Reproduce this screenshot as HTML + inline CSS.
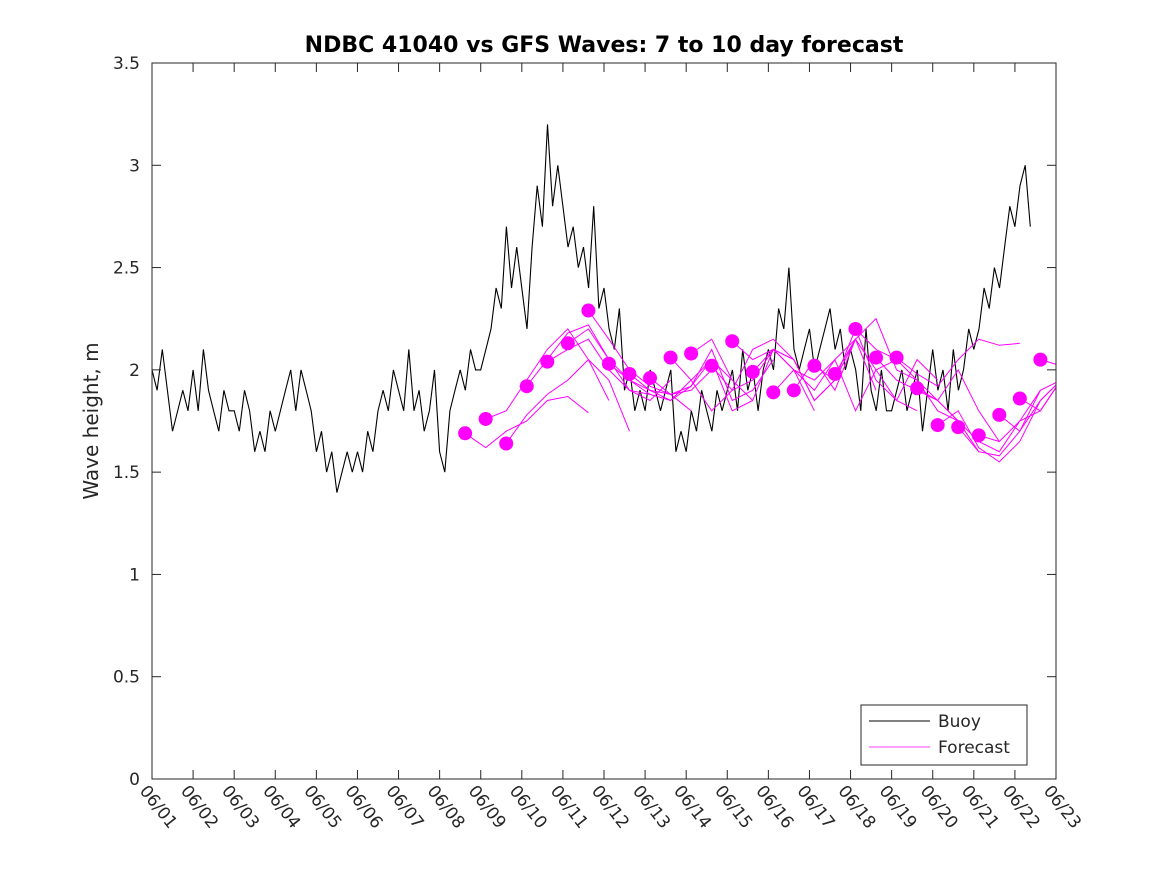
<!DOCTYPE html>
<html><head><meta charset="utf-8"><style>
body{margin:0;background:#fff;}
svg text{font-family:"DejaVu Sans","Liberation Sans",sans-serif;fill:#262626;}
</style></head><body>
<svg id="chart" width="1167" height="875" xmlns="http://www.w3.org/2000/svg">
<rect width="1167" height="875" fill="#fff"/>
<defs><clipPath id="clip"><rect x="152" y="63" width="904" height="716"/></clipPath></defs>
<text x="604" y="52" text-anchor="middle" font-size="22" font-weight="bold" style="fill:#000">NDBC 41040 vs GFS Waves: 7 to 10 day forecast</text>
<text transform="translate(98,421) rotate(-90)" text-anchor="middle" font-size="20">Wave height, m</text>
<g id="marks" clip-path="url(#clip)"></g>
<rect x="152" y="63" width="904" height="716" fill="none" stroke="#262626" stroke-width="1"/>
<g id="axes"></g>
<g>
<rect x="861" y="705" width="166" height="60" fill="#fff" stroke="#262626"/>
<line x1="869" y1="721" x2="930" y2="721" stroke="#000"/>
<text x="938" y="727" font-size="17">Buoy</text>
<line x1="869" y1="747" x2="930" y2="747" stroke="#f0f" stroke-width="0.8"/>
<text x="938" y="753" font-size="17">Forecast</text>
</g>
</svg>
<script>
const xTickLabels=["06/01","06/02","06/03","06/04","06/05","06/06","06/07","06/08","06/09","06/10","06/11","06/12","06/13","06/14","06/15","06/16","06/17","06/18","06/19","06/20","06/21","06/22","06/23"];
const yTicks=[0,0.5,1,1.5,2,2.5,3,3.5];
const yTickLabels=["0","0.5","1","1.5","2","2.5","3","3.5"];
const buoyStepHours=3;
const buoy=[2.0,1.9,2.1,1.9,1.7,1.8,1.9,1.8,
2.0,1.8,2.1,1.9,1.8,1.7,1.9,1.8,
1.8,1.7,1.9,1.8,1.6,1.7,1.6,1.8,
1.7,1.8,1.9,2.0,1.8,2.0,1.9,1.8,
1.6,1.7,1.5,1.6,1.4,1.5,1.6,1.5,
1.6,1.5,1.7,1.6,1.8,1.9,1.8,2.0,
1.9,1.8,2.1,1.8,1.9,1.7,1.8,2.0,
1.6,1.5,1.8,1.9,2.0,1.9,2.1,2.0,
2.0,2.1,2.2,2.4,2.3,2.7,2.4,2.6,
2.4,2.2,2.6,2.9,2.7,3.2,2.8,3.0,
2.8,2.6,2.7,2.5,2.6,2.4,2.8,2.3,
2.4,2.2,2.1,2.3,1.9,2.0,1.8,1.9,
1.8,2.0,1.9,1.8,1.9,2.0,1.6,1.7,
1.6,1.8,1.7,1.9,1.8,1.7,1.9,1.8,
1.9,2.0,1.8,2.1,1.9,2.0,1.8,2.0,
2.1,2.0,2.3,2.2,2.5,2.1,2.0,2.1,
2.2,2.0,2.1,2.2,2.3,2.1,2.2,2.0,
2.1,2.0,1.8,2.2,1.9,1.8,2.0,1.8,
1.8,1.9,2.0,1.8,1.9,2.0,1.7,1.9,
2.1,1.9,2.0,1.8,2.1,1.9,2.0,2.2,
2.1,2.2,2.4,2.3,2.5,2.4,2.6,2.8,
2.7,2.9,3.0,2.7];
const dotStartDay=7.62;
const dotStepDays=0.5;
const dots=[1.69,1.76,1.64,1.92,2.04,2.13,2.29,2.03,1.98,1.96,2.06,2.08,2.02,2.14,1.99,1.89,1.90,2.02,1.98,2.20,2.06,2.06,1.91,1.73,1.72,1.68,1.78,1.86,2.05];
const fcStepDays=0.5;
const forecasts=[
[1.69,1.62,1.70,1.75,1.85,1.87,1.79],
[1.76,1.80,1.95,2.10,2.20,2.05,1.85],
[1.64,1.78,1.88,1.95,2.05,1.95,1.70],
[1.92,2.05,2.18,2.22,2.05,1.90,1.88],
[2.04,2.10,2.15,2.00,1.90,1.85,1.95],
[2.13,2.20,2.05,1.95,1.90,1.88,1.80],
[2.29,2.15,2.00,1.92,1.88,1.90,2.00],
[2.03,1.95,1.88,1.85,1.92,2.05,1.95],
[1.98,1.90,1.85,1.95,2.05,1.80,1.85],
[1.96,1.88,1.92,2.10,1.85,1.90,2.05],
[2.06,1.95,1.80,1.90,2.10,2.15,2.05],
[2.08,2.15,1.95,1.85,2.10,2.00,1.80],
[2.02,1.90,1.95,2.10,2.05,1.85,1.95],
[2.14,2.05,2.10,2.00,1.90,2.05,2.15],
[1.99,2.10,2.05,1.85,1.95,2.15,1.90],
[1.89,2.00,1.95,2.05,1.80,2.00,2.05],
[1.90,2.05,1.90,2.15,2.00,1.85,1.80],
[2.02,1.95,2.20,1.95,1.85,2.05,1.95],
[1.98,2.15,2.25,2.00,1.95,1.80,1.75],
[2.20,2.10,2.05,1.95,1.85,1.75,1.60],
[2.06,1.95,1.90,1.85,2.00,1.80,1.65],
[2.06,1.98,1.92,2.05,2.15,2.12,2.13],
[1.91,1.85,1.75,1.65,1.60,1.75,1.90],
[1.73,1.80,1.62,1.55,1.65,1.85,1.95],
[1.72,1.60,1.58,1.70,1.90,1.95,2.00],
[1.68,1.65,1.75,1.80,1.95,1.80,1.70],
[1.78,1.70,1.85,1.95,1.90,1.85,1.80],
[1.86,1.80,1.95,2.00,1.95,1.90,1.85],
[2.05,2.02,2.05,2.00,1.95,1.90,1.85]];

const NS="http://www.w3.org/2000/svg";
const X0=152,X1=1056,Y0=779,Y1=63,DAYS=22,YMAX=3.5;
function xs(d){return X0+(X1-X0)*d/DAYS;}
function ys(v){return Y0-(Y0-Y1)*v/YMAX;}
function mk(tag,attrs,parent){const e=document.createElementNS(NS,tag);for(const k in attrs)e.setAttribute(k,attrs[k]);parent.appendChild(e);return e;}
const marks=document.getElementById('marks'),axes=document.getElementById('axes');

let p="";
buoy.forEach((v,i)=>{const d=i*buoyStepHours/24;p+=(i?"L":"M")+xs(d).toFixed(1)+","+ys(v).toFixed(1);});
const bl=mk('path',{d:p,fill:"none",stroke:"#000","stroke-width":1.1},marks);



forecasts.forEach((f,i)=>{
  const t0=dotStartDay+i*dotStepDays;
  let q="";
  f.forEach((v,j)=>{q+=(j?"L":"M")+xs(t0+j*fcStepDays).toFixed(1)+","+ys(v).toFixed(1);});
  const fl=mk('path',{d:q,fill:"none",stroke:"#f0f","stroke-width":1},marks);
  
  
});
dots.forEach((v,i)=>{
  const c=mk('circle',{cx:xs(dotStartDay+i*dotStepDays),cy:ys(v),r:7,fill:"#f0f"},marks);
  
  
});

yTicks.forEach((v,i)=>{
  const y=ys(v);
  mk('line',{x1:X0,y1:y,x2:X0+9,y2:y,stroke:"#262626"},axes);
  mk('line',{x1:X1,y1:y,x2:X1-9,y2:y,stroke:"#262626"},axes);
  const t=mk('text',{x:140,y:y+6,"text-anchor":"end","font-size":17},axes);
  t.textContent=yTickLabels[i];
  
  
});
xTickLabels.forEach((lab,i)=>{
  const x=xs(i);
  mk('line',{x1:x,y1:Y0,x2:x,y2:Y0-9,stroke:"#262626"},axes);
  mk('line',{x1:x,y1:Y1,x2:x,y2:Y1+9,stroke:"#262626"},axes);
  const t=mk('text',{transform:`translate(${x-13},${791}) rotate(52)`,"font-size":17},axes);
  t.textContent=lab;
  
  
});
</script>
</body></html>
